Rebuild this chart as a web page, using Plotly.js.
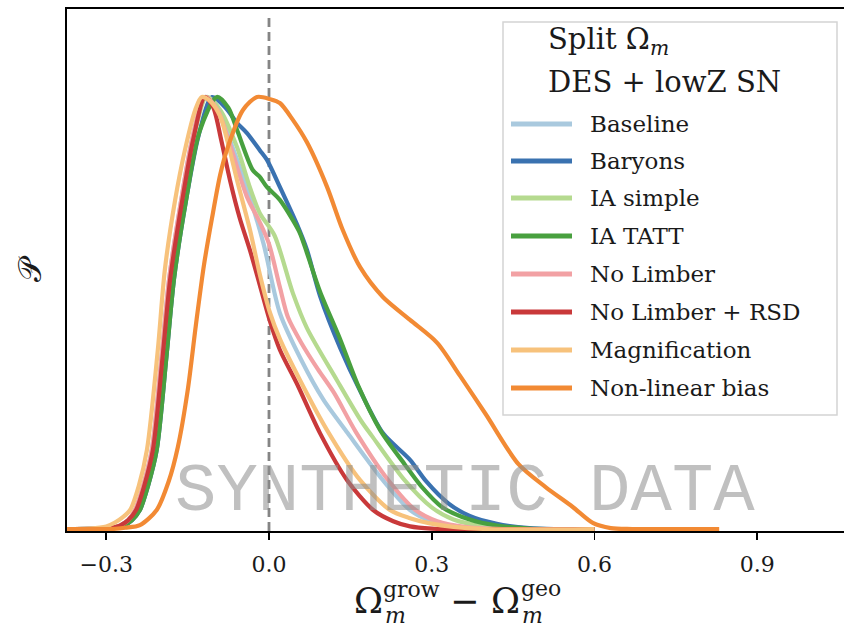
<!DOCTYPE html>
<html><head><meta charset="utf-8">
<script src="https://cdn.plot.ly/plotly-3.0.1.min.js"></script>
<style>html,body{margin:0;padding:0;background:#fff}</style>
</head><body><div id="chart" style="width:844px;height:629px"></div>
<script>
// ---------------- data ----------------
const seriesNames = ["Baseline","Baryons","IA simple","IA TATT","No Limber","No Limber + RSD","Magnification","Non-linear bias"];
const seriesColors = ["#a9c9de","#3a72b0","#b5da8f","#48a03f","#f2a1a4","#c9393a","#f7c27c","#f28a34"];

const xBaseline = [-0.372,-0.31,-0.29,-0.275,-0.26,-0.247,-0.232,-0.216,-0.198,-0.184,-0.162,-0.142,-0.118,-0.095,-0.072,-0.041,-0.01,0.02,0.06,0.10,0.145,0.21,0.26,0.30,0.35,0.42,0.6];
const yBaseline = [0,0.001,0.003,0.008,0.02,0.044,0.10,0.183,0.40,0.58,0.76,0.90,1.0,0.97,0.90,0.79,0.66,0.50,0.39,0.30,0.222,0.113,0.044,0.018,0.005,0,0];

const xBaryons = [-0.372,-0.30,-0.28,-0.268,-0.253,-0.238,-0.223,-0.207,-0.189,-0.175,-0.153,-0.13,-0.105,-0.08,-0.059,-0.041,-0.017,-0.004,0.020,0.052,0.070,0.094,0.131,0.168,0.21,0.26,0.29,0.33,0.37,0.42,0.48,0.53,0.6];
const yBaryons = [0,0.001,0.003,0.008,0.02,0.044,0.10,0.183,0.40,0.58,0.76,0.91,1.0,0.975,0.94,0.917,0.877,0.855,0.792,0.704,0.646,0.54,0.42,0.32,0.222,0.16,0.11,0.06,0.03,0.012,0.002,0,0];

const xIAsimple = [-0.372,-0.31,-0.29,-0.274,-0.259,-0.245,-0.23,-0.214,-0.196,-0.182,-0.16,-0.138,-0.115,-0.09,-0.059,-0.035,-0.017,0.01,0.044,0.07,0.125,0.17,0.19,0.25,0.30,0.34,0.40,0.47,0.6];
const yIAsimple = [0,0.001,0.003,0.008,0.02,0.044,0.10,0.183,0.40,0.58,0.76,0.91,1.0,0.97,0.884,0.79,0.731,0.68,0.546,0.465,0.345,0.25,0.215,0.113,0.05,0.022,0.006,0,0];

const xIATATT = [-0.372,-0.30,-0.28,-0.268,-0.253,-0.238,-0.223,-0.207,-0.189,-0.175,-0.153,-0.128,-0.096,-0.075,-0.059,-0.03,-0.017,-0.004,0.020,0.044,0.057,0.070,0.094,0.131,0.165,0.205,0.25,0.28,0.32,0.37,0.42,0.48,0.52,0.6];
const yIATATT = [0,0.001,0.003,0.008,0.02,0.044,0.10,0.183,0.40,0.58,0.76,0.92,1.0,0.975,0.924,0.831,0.815,0.792,0.762,0.715,0.685,0.639,0.55,0.44,0.33,0.229,0.15,0.10,0.05,0.022,0.008,0.001,0,0];

const xNoLimber = [-0.372,-0.31,-0.29,-0.275,-0.26,-0.247,-0.232,-0.216,-0.198,-0.184,-0.162,-0.142,-0.118,-0.095,-0.072,-0.041,-0.017,0.0,0.02,0.035,0.06,0.09,0.12,0.16,0.22,0.27,0.31,0.36,0.43,0.6];
const yNoLimber = [0,0.001,0.003,0.008,0.02,0.044,0.10,0.183,0.40,0.58,0.76,0.90,1.0,0.97,0.89,0.77,0.71,0.66,0.56,0.49,0.43,0.37,0.315,0.225,0.113,0.044,0.018,0.005,0,0];

const xNoLimberRSD = [-0.372,-0.31,-0.29,-0.275,-0.26,-0.245,-0.23,-0.214,-0.196,-0.182,-0.16,-0.14,-0.118,-0.103,-0.088,-0.072,-0.054,-0.035,-0.017,0.002,0.020,0.052,0.094,0.144,0.192,0.229,0.26,0.30,0.35,0.6];
const yNoLimberRSD = [0,0.001,0.003,0.008,0.02,0.044,0.10,0.183,0.40,0.58,0.76,0.90,1.0,0.977,0.90,0.808,0.72,0.645,0.565,0.48,0.415,0.335,0.222,0.113,0.044,0.018,0.006,0.001,0,0];

const xMagnification = [-0.372,-0.33,-0.30,-0.284,-0.27,-0.256,-0.24,-0.225,-0.205,-0.192,-0.173,-0.155,-0.136,-0.124,-0.108,-0.09,-0.075,-0.059,-0.035,-0.017,0.002,0.020,0.057,0.107,0.168,0.223,0.26,0.297,0.34,0.40,0.6];
const yMagnification = [0,0.001,0.006,0.015,0.027,0.044,0.10,0.183,0.414,0.60,0.762,0.877,0.970,1.0,0.99,0.955,0.89,0.808,0.692,0.59,0.50,0.44,0.345,0.229,0.113,0.044,0.025,0.013,0.005,0,0];

const xNonlinearBias = [-0.372,-0.29,-0.265,-0.238,-0.207,-0.185,-0.168,-0.15,-0.135,-0.12,-0.105,-0.09,-0.077,-0.048,-0.022,0.002,0.020,0.044,0.070,0.107,0.136,0.168,0.210,0.260,0.310,0.352,0.40,0.46,0.51,0.56,0.597,0.63,0.67,0.83];
const yNonlinearBias = [0,0,0.003,0.009,0.044,0.11,0.19,0.32,0.47,0.61,0.72,0.82,0.88,0.970,1.0,0.995,0.986,0.947,0.895,0.792,0.692,0.606,0.537,0.484,0.431,0.355,0.265,0.15,0.097,0.051,0.014,0.002,0,0];

const seriesX = [xBaseline,xBaryons,xIAsimple,xIATATT,xNoLimber,xNoLimberRSD,xMagnification,xNonlinearBias];
const seriesY = [yBaseline,yBaryons,yIAsimple,yIATATT,yNoLimber,yNoLimberRSD,yMagnification,yNonlinearBias];

const tickVals = [-0.3,0.0,0.3,0.6,0.9];
const tickText = ["\u22120.3","0.0","0.3","0.6","0.9"];
const legendTitle1 = "Split \u03A9<sub><i>m</i></sub>";
const legendTitle2 = "DES + lowZ SN";
const watermark = "SYNTHETIC DATA";

// ---------------- layout helpers ----------------
const W = 844, H = 629;
const L = 67, R = 844, T = 9, B = 531;
const px = v => (v - L) / (R - L);
const py = v => (B - v) / (B - T);
const SERIF = "DejaVu Serif, Liberation Serif, serif";

const traces = seriesNames.map((n, i) => ({
  type: "scatter", mode: "lines", name: n,
  x: seriesX[i], y: seriesY[i],
  line: {color: seriesColors[i], width: 4.2, shape: "spline", smoothing: 0.8},
  showlegend: false, hoverinfo: "skip"
}));

const shapes = [
  {type: "line", xref: "x", yref: "paper", x0: 0, x1: 0, y0: 0, y1: 0.99,
   line: {color: "#858585", width: 2.8, dash: "9px,5px"}, layer: "below"}
];
const annotations = [];

// legend box
const lx0 = px(503), lx1 = px(837), ly0 = py(415), ly1 = py(22);
shapes.push({type: "rect", xref: "paper", yref: "paper", x0: lx0, x1: lx1, y0: ly0, y1: ly1,
  line: {color: "#d4d4d4", width: 1.5}, fillcolor: "rgba(255,255,255,0.85)", layer: "above"});
const rowY = [124, 161, 198, 236, 274, 312, 350, 388];
seriesNames.forEach((n, i) => {
  shapes.push({type: "line", xref: "paper", yref: "paper", x0: px(511), x1: px(572), y0: py(rowY[i]), y1: py(rowY[i]),
    line: {color: seriesColors[i], width: 5}, layer: "above"});
  annotations.push({xref: "paper", yref: "paper", x: px(588), y: py(rowY[i]), xanchor: "left", yanchor: "middle",
    text: n, showarrow: false, font: {family: SERIF, size: 23, color: "#1a1a1a"}});
});
annotations.push({xref: "paper", yref: "paper", x: px(546), y: py(41), xanchor: "left", yanchor: "middle",
  text: legendTitle1, showarrow: false, font: {family: SERIF, size: 29, color: "#1a1a1a"}});
annotations.push({xref: "paper", yref: "paper", x: px(546), y: py(82), xanchor: "left", yanchor: "middle",
  text: legendTitle2, showarrow: false, font: {family: SERIF, size: 29, color: "#1a1a1a"}});

// x-axis title pieces
const xt = [
  {t: "\u03A9", x: 368, y: 601, s: 35, a: "center"},
  {t: "grow", x: 381, y: 589, s: 22, a: "left"},
  {t: "<i>m</i>", x: 383, y: 615, s: 22, a: "left"},
  {t: "\u2212", x: 464, y: 601, s: 35, a: "center"},
  {t: "\u03A9", x: 505, y: 601, s: 35, a: "center"},
  {t: "geo", x: 519, y: 588, s: 22, a: "left"},
  {t: "<i>m</i>", x: 520, y: 615, s: 22, a: "left"}
];
xt.forEach(p => annotations.push({xref: "paper", yref: "paper", x: px(p.x), y: py(p.y), xanchor: p.a, yanchor: "middle",
  text: p.t, showarrow: false, font: {family: SERIF, size: p.s, color: "#1a1a1a"}}));

// y label
annotations.push({xref: "paper", yref: "paper", x: px(30), y: py(269), xanchor: "center", yanchor: "middle",
  text: "\uD835\uDCAB", textangle: -90, showarrow: false, font: {family: SERIF, size: 32, color: "#1a1a1a"}});

// watermark
annotations.push({xref: "paper", yref: "paper", x: px(465), y: py(492), xanchor: "center", yanchor: "middle",
  text: watermark, showarrow: false, font: {family: "Liberation Mono, monospace", size: 69, color: "rgba(140,140,140,0.55)"}});

const layout = {
  width: W, height: H,
  margin: {l: L, r: W - R, t: T, b: H - B, pad: 0},
  paper_bgcolor: "#fff", plot_bgcolor: "#fff",
  showlegend: false,
  xaxis: {range: [-0.3724, 1.0601], showgrid: false, zeroline: false,
    showline: true, linecolor: "#000", linewidth: 1.8, mirror: true,
    ticks: "outside", ticklen: 7, tickwidth: 1.6, tickcolor: "#000",
    tickvals: tickVals, ticktext: tickText, ticklabelstandoff: 6,
    tickfont: {family: SERIF, size: 22, color: "#1a1a1a"}},
  yaxis: {range: [-0.0046, 1.2037], showgrid: false, zeroline: false,
    showline: true, linecolor: "#000", linewidth: 1.8, mirror: false,
    ticks: "", showticklabels: false},
  shapes: shapes, annotations: annotations
};

Plotly.newPlot("chart", traces, layout, {staticPlot: true, displayModeBar: false});
</script>
</body></html>
